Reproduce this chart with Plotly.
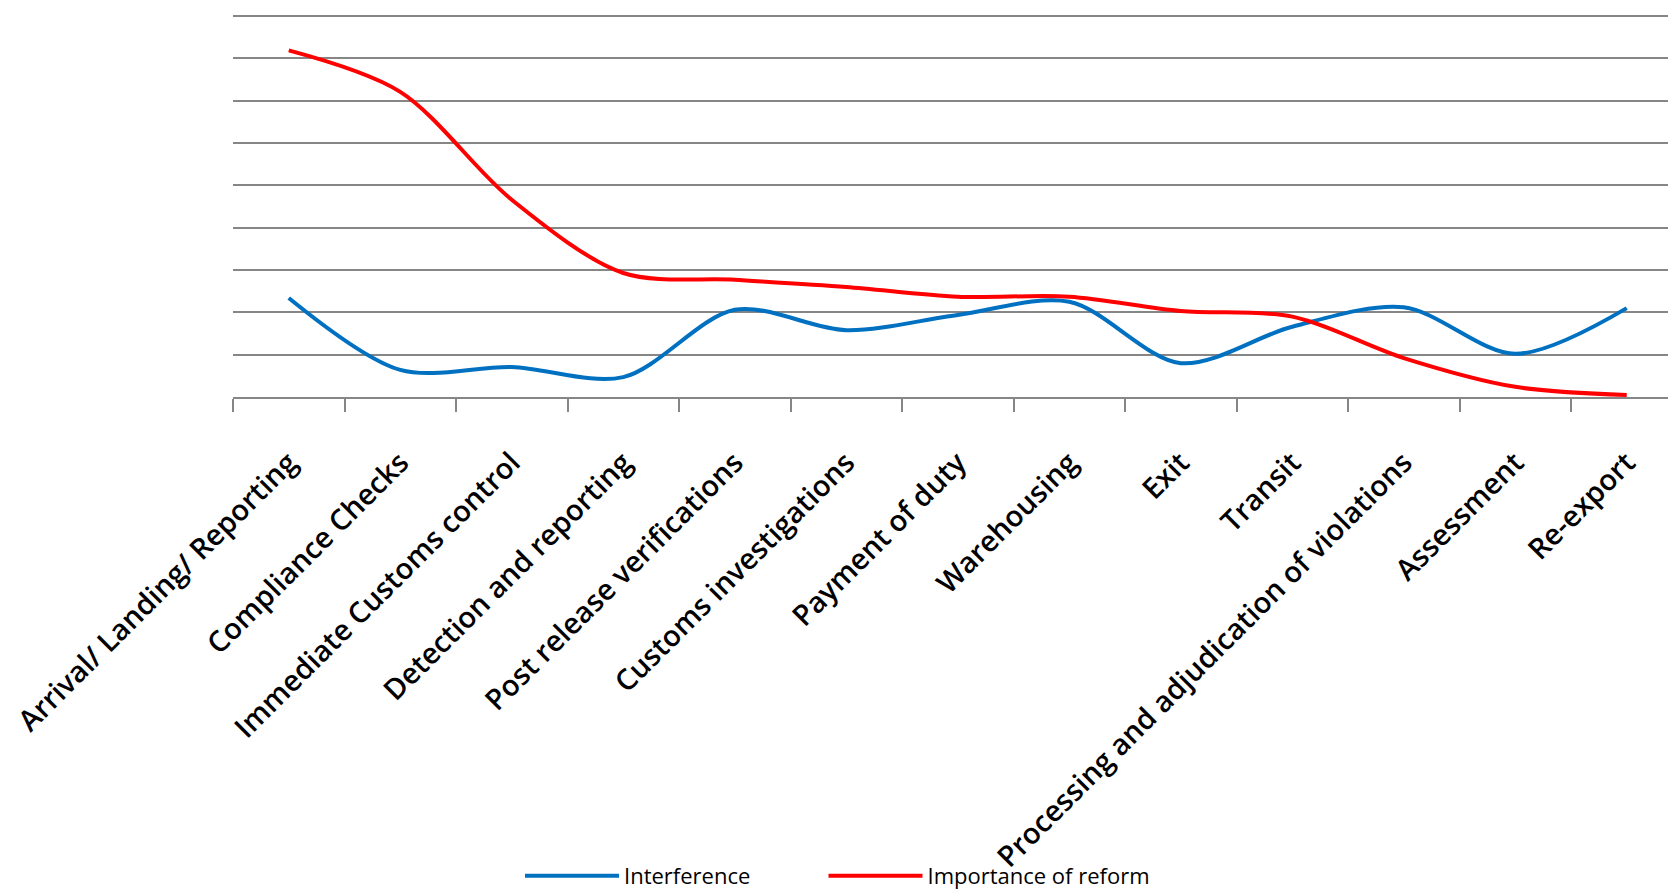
import plotly.graph_objects as go

# Customs process stages on the category axis
stages = [
    "Arrival/ Landing/ Reporting",
    "Compliance Checks",
    "Immediate Customs control",
    "Detection and reporting",
    "Post release verifications",
    "Customs investigations",
    "Payment of duty",
    "Warehousing",
    "Exit",
    "Transit",
    "Processing and adjudication of violations",
    "Assessment",
    "Re-export",
]

# Series values per stage
interference = [2.34, 0.64, 0.71, 0.47, 2.06, 1.58, 1.94, 2.25, 0.80, 1.66, 2.12, 1.02, 2.10]
importance_of_reform = [8.19, 7.21, 4.66, 2.93, 2.77, 2.60, 2.37, 2.37, 2.03, 1.90, 0.92, 0.24, 0.05]

GRID = "#868686"

fig = go.Figure()
fig.add_trace(go.Scatter(
    x=stages, y=interference, name="Interference", mode="lines",
    line=dict(color="#0070C0", width=4, shape="spline", smoothing=0.9),
    legend="legend",
))
fig.add_trace(go.Scatter(
    x=stages, y=importance_of_reform, name="Importance of reform", mode="lines",
    line=dict(color="#FF0000", width=4, shape="spline", smoothing=0.9),
    legend="legend2",
))

legend_style = dict(
    orientation="h", xanchor="left", y=-1.196, yanchor="top",
    font=dict(family="Open Sans", size=22, color="#000000"),
    itemwidth=94,
    bgcolor="rgba(0,0,0,0)",
)

fig.update_layout(
    width=1668, height=896,
    margin=dict(l=233, r=0, t=14, b=499, autoexpand=False),
    paper_bgcolor="white", plot_bgcolor="white",
    showlegend=True,
    legend=dict(x=0.2, **legend_style),
    legend2=dict(x=0.4115, **legend_style),
)

fig.update_xaxes(
    type="category", range=[-0.5, 12.37], automargin=False,
    showgrid=False, showline=True, linecolor=GRID, linewidth=2,
    ticks="outside", tickson="boundaries", ticklen=13, tickwidth=2, tickcolor=GRID,
    tickangle=-45, ticklabelstandoff=35,
    tickfont=dict(family="Open Sans", size=29, color="#000000", weight=600),
)
fig.update_yaxes(
    range=[0, 9.05], dtick=1, tick0=0, automargin=False,
    showgrid=True, gridcolor=GRID, gridwidth=2,
    zeroline=False, showline=False, showticklabels=False, ticks="",
)

fig.write_html("out.html")
